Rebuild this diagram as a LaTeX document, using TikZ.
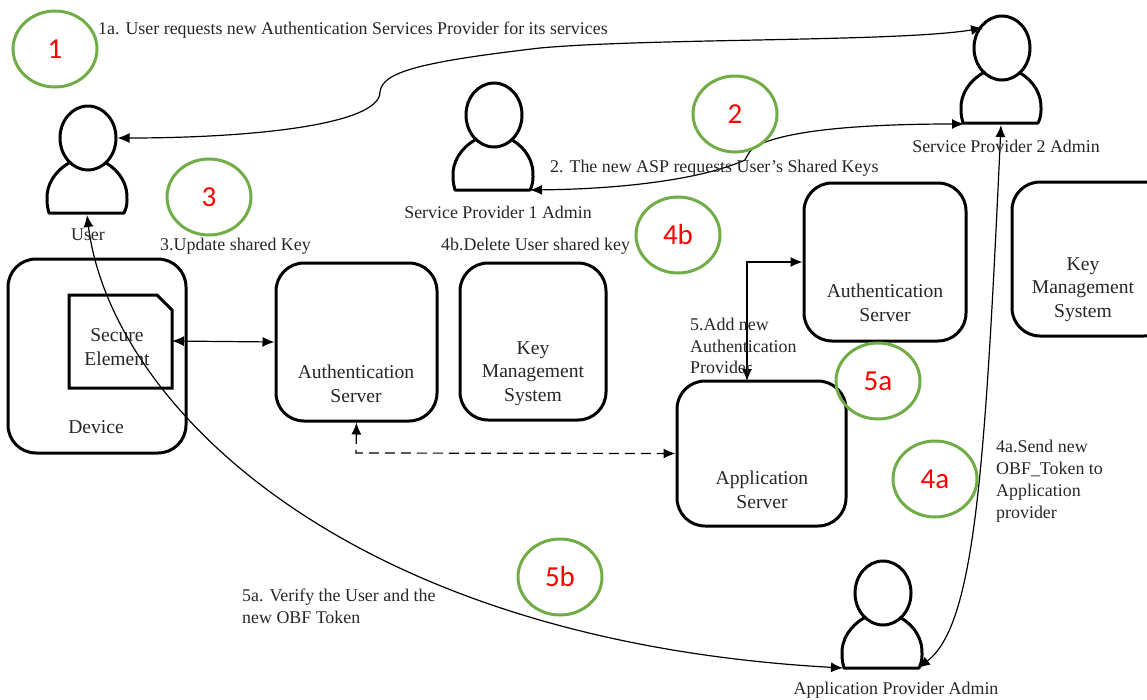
\documentclass[tikz,border=0pt]{standalone}
\usepackage{fontspec}
\setmainfont{Liberation Serif}
\newfontfamily\stepfont{Carlito}
\usepackage{xcolor}
\usepackage{tikz}
\usetikzlibrary{arrows.meta, shapes.geometric, calc}

\definecolor{stepgreen}{HTML}{70AD47}
\tikzset{
  box/.style={draw=black,line width=3pt,rounded corners=28pt,fill=none},
  boxtext/.style={font=\fontsize{19.6}{23.6}\selectfont,align=center,text=black!85,inner sep=0pt},
  note/.style={font=\fontsize{17.9}{21.8}\selectfont,align=left,anchor=west,text=black!85,inner sep=0pt},
  stepmark/.style={draw=stepgreen,line width=3pt,ellipse,minimum width=84pt,minimum height=76pt,inner sep=0pt,
    font=\stepfont\fontsize{29}{30}\selectfont,text=red},
  link/.style={line width=1.2pt,black,>={Latex[length=12pt,width=10pt]}},
  head/.style={draw=black,line width=3pt,ellipse,minimum width=56pt,minimum height=64pt,inner sep=0pt}
}
% head centre at #2,#3
\newcommand{\person}[3]{
  \node[head] (#1) at (#2,#3) {};
  \coordinate (#1bl) at ($(#2,#3)+(-39,75)$);
  \coordinate (#1br) at ($(#2,#3)+(36,75)$);
  \draw[line width=3pt,line join=round] ($(#2,#3)+(-19,25)$) .. controls ($(#2,#3)+(-33,33)$) and ($(#2,#3)+(-42,47)$) .. ($(#2,#3)+(-41,62)$)
    .. controls ($(#2,#3)+(-41,67)$) and ($(#2,#3)+(-40,71)$) .. (#1bl) -- (#1br)
    .. controls ($(#2,#3)+(38,71)$) and ($(#2,#3)+(39,67)$) .. ($(#2,#3)+(39,62)$)
    .. controls ($(#2,#3)+(40,47)$) and ($(#2,#3)+(32,33)$) .. ($(#2,#3)+(18,25)$);
}

\begin{document}
\begin{tikzpicture}[x=1pt,y=-1pt]
\useasboundingbox (0,0) rectangle (1147,699);

% people
\person{user}{88}{138}
\person{spone}{494}{115}
\person{sptwo}{1002}{48}
\person{appadmin}{883}{593}

% boxes
\node[box,minimum width=178pt,minimum height=194pt] (device) at (97,356) {};
\node[box,minimum width=161pt,minimum height=158pt] (authone) at (356.5,342) {};
\node[box,minimum width=146pt,minimum height=157pt] (kmsone) at (533,341.5) {};
\node[box,minimum width=162pt,minimum height=158pt] (authtwo) at (885,262) {};
\node[box,minimum width=160pt,minimum height=154pt] (kmstwo) at (1092,259) {};
\node[box,minimum width=169pt,minimum height=145pt] (appserver) at (761.5,453.5) {};

\draw[line width=3pt,line join=miter] (69,295) coordinate (seone) -- (157,295) -- (172,310) -- (172,388) -- (69,388) -- cycle;
\coordinate (seright) at (172,341);

\node[boxtext] (devicetext) at (96,427) {Device};
\node[boxtext] (setext) at (117,347) {Secure\\Element};
\node[boxtext] (authonetext) at (356,384) {Authentication\\Server};
\node[boxtext] (kmsonetext) at (533,373.5) {Key\\Management\\System};
\node[boxtext] (authtwotext) at (885,303) {Authentication\\Server};
\node[boxtext] (kmstwotext) at (1083,289.5) {Key\\Management\\System};
\node[boxtext] (apptext) at (762,490) {Application\\Server};

% connectors
\coordinate (userbase) at (87,215);
\coordinate (sponebase) at (530,190);
\coordinate (sptwoleft) at (983,28);
\coordinate (sptwobase) at (964,124);
\coordinate (sptwofoot) at (1001,125);
\coordinate (appleft) at (843,668);
\coordinate (appright) at (918,668);

\draw[link,<->] (user.east) .. controls (250,138) and (380,125) .. (380,92) .. controls (382,72) and (420,62) .. (540,48) .. controls (650,38) and (900,42) .. (sptwoleft);
\draw[link,<->] (sponebase) .. controls (620,189) and (700,180) .. (745,160) .. controls (750,150) and (752,148) .. (763,143) .. controls (800,128) and (880,124) .. (sptwobase);
\draw[link,<->] (userbase) .. controls (110,400) and (340,640) .. (appleft);
\draw[link,<->] (sptwofoot) .. controls (985,470) and (975,625) .. (appright);
\draw[link,<->] (seright) -- (authone.west);
\draw[link,<->,dashed,dash pattern=on 10pt off 6pt] (authone.south) -- (356,453) -- (appserver.west);
\draw[link,<->] (authtwo.west) -- (747,262) -- (747,381);

% step marks
\node[stepmark] (stepone) at (55,49) {1};
\node[stepmark] (steptwo) at (735,114) {2};
\node[stepmark] (stepthree) at (209,197) {3};
\node[stepmark] (stepfourb) at (678,235) {4b};
\node[stepmark] (stepfivea) at (878,381) {5a};
\node[stepmark] (stepfoura) at (935,479) {4a};
\node[stepmark] (stepfiveb) at (560,577) {5b};

% notes
\node[note] (noteone) at (98,30) {1a. User requests new Authentication Services Provider for its services};
\node[note] (notetwo) at (550,168) {2. The new ASP requests User’s Shared Keys};
\node[note] (notethree) at (160,246) {3.Update shared Key};
\node[note] (notefourb) at (441,246) {4b.Delete User shared key};
\node[note] (notefive) at (690,346) {5.Add new\\Authentication\\Provider};
\node[note] (notefoura) at (996,481) {4a.Send new\\OBF\_Token to\\Application\\provider};
\node[note] (notefivea) at (242,606) {5a. Verify the User and the\\new OBF Token};

\node[note,anchor=center] (userlabel) at (88,235) {User};
\node[note,anchor=center] (sponelabel) at (498,212) {Service Provider 1 Admin};
\node[note,anchor=center] (sptwolabel) at (1006,146) {Service Provider 2 Admin};
\node[note,anchor=center] (appadminlabel) at (896,690) {Application Provider Admin};
\end{tikzpicture}
\end{document}
